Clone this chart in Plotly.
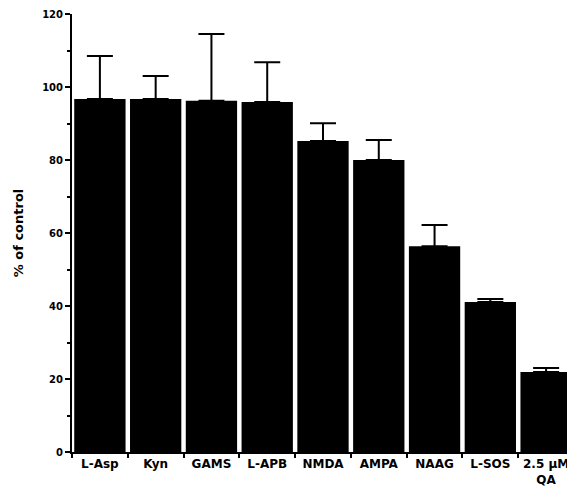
import plotly.graph_objects as go

categories = ["L-Asp", "Kyn", "GAMS", "L-APB", "NMDA", "AMPA", "NAAG", "L-SOS", "2.5 µM<br>QA"]
values = [96.7, 96.7, 96.2, 95.9, 85.2, 80.0, 56.4, 41.1, 21.9]
errors = [11.8, 6.3, 18.3, 10.9, 4.9, 5.5, 5.8, 0.8, 1.1]
y_ticks = [0, 20, 40, 60, 80, 100, 120]

fig = go.Figure(go.Bar(
    x=categories,
    y=values,
    marker=dict(color="black", line=dict(width=0)),
    error_y=dict(type="data", array=errors, arrayminus=[0] * len(errors),
                 symmetric=False, color="black", thickness=2, width=13),
))

# page body has an 8px margin, so the figure is offset by (8, 8)
fig.update_layout(
    width=567, height=482,
    margin=dict(l=64, r=1, t=6, b=38),
    plot_bgcolor="white", paper_bgcolor="white",
    bargap=0.08,
    showlegend=False,
    font=dict(family="DejaVu Sans, sans-serif", color="black"),
)
fig.update_xaxes(
    automargin=False,
    tickangle=0,
    tickvals=categories,
    ticktext=["<b>" + c + "</b>" for c in categories],
    tickfont=dict(size=12),
    showline=True, linecolor="black", linewidth=2,
    ticks="outside", tickson="boundaries", ticklen=4, tickwidth=2, tickcolor="black",
    range=[-0.5, 8.5],
)
fig.update_yaxes(
    automargin=False,
    range=[0, 120],
    tickvals=y_ticks,
    ticktext=["<b>%d</b>" % v for v in y_ticks],
    tickfont=dict(size=10),
    showline=True, linecolor="black", linewidth=2,
    ticks="outside", ticklen=5, tickwidth=2, tickcolor="black",
    minor=dict(tickvals=[10, 30, 50, 70, 90, 110], ticks="outside", ticklen=3,
               tickwidth=1.5, tickcolor="black"),
    showgrid=False, zeroline=False,
    title=dict(text="<b>% of control</b>", font=dict(size=13), standoff=16),
)

fig.write_html("out.html")
